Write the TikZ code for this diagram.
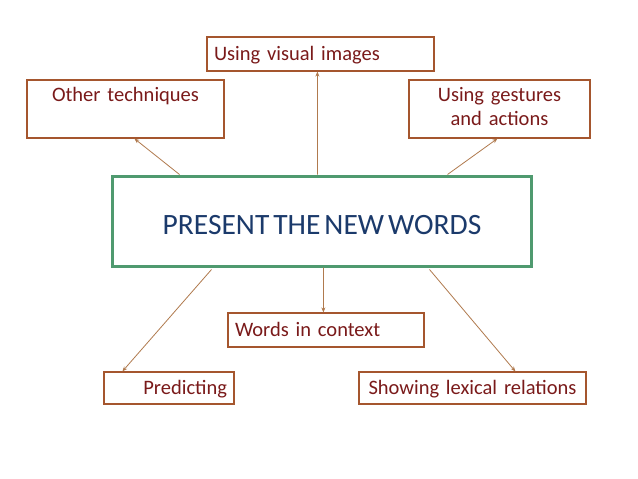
\documentclass[tikz,border=0pt]{standalone}
\usepackage{fontspec}
\setmainfont{Carlito}
\usetikzlibrary{arrows.meta}
\definecolor{boxline}{HTML}{A5562E}
\definecolor{boxtext}{HTML}{7A1A1A}
\definecolor{arrline}{HTML}{B07A4E}
\definecolor{ctrline}{HTML}{4F9A6F}
\definecolor{ctrtext}{HTML}{1B3A6B}
\newcommand{\wsp}{\hspace{4pt}}
\tikzset{
  x=1pt, y=1pt,
  boxnode/.style={draw=boxline, line width=1.2pt, rectangle, inner xsep=7pt, inner ysep=0pt,
    text=boxtext, font=\fontsize{20.5}{24}\selectfont},
  oneline/.style={text height=16pt, text depth=3pt},
  ctrnode/.style={draw=ctrline, line width=3pt, rectangle, inner sep=0pt, text=ctrtext,
    font=\fontsize{29.5}{34}\selectfont, text height=26pt, text depth=0pt},
  arr/.style={draw=arrline, line width=0.8pt, -{Stealth[length=5pt,width=4pt]}},
}
\begin{document}
\begin{tikzpicture}
\useasboundingbox[fill=white] (0,0) rectangle (638,-479);
% boxes
\node[boxnode, oneline, minimum width=227pt, minimum height=34pt, text width=213pt, align=left] (vis) at (320.5,-54) {Using visual images};
\node[boxnode, minimum width=197pt, minimum height=58pt, text width=183pt, align=center] (oth) at (125.5,-109) {\strut Other techniques\\\strut};
\node[boxnode, minimum width=181pt, minimum height=58pt, text width=167pt, align=center] (ges) at (499.5,-109) {\strut Using gestures\\\strut and actions};
\node[ctrnode, minimum width=419pt, minimum height=90pt] (ctr) at (322,-221) {PRESENT\wsp THE\wsp NEW\wsp WORDS};
\node[boxnode, oneline, minimum width=196pt, minimum height=34pt, text width=182pt, align=left] (wic) at (326,-330) {Words in context};
\node[boxnode, oneline, minimum width=130pt, minimum height=32pt, text width=116pt, align=right] (pre) at (169,-388) {Predicting};
\node[boxnode, oneline, minimum width=227pt, minimum height=32pt, text width=213pt, align=center] (sho) at (472.5,-388) {Showing lexical relations};
% connectors
\draw[arr] ([xshift=206.5pt]ctr.north west) -- ([xshift=111pt]vis.south west);
\draw[arr] ([xshift=68.5pt]ctr.north west) -- ([xshift=108pt]oth.south west);
\draw[arr] ([xshift=336.5pt]ctr.north west) -- ([xshift=89pt]ges.south west);
\draw[arr] ([xshift=212.5pt]ctr.south west) -- ([xshift=96pt]wic.north west);
\draw[arr] ([xshift=100.5pt,yshift=-2pt]ctr.south west) -- ([xshift=19pt]pre.north west);
\draw[arr] ([xshift=318.5pt,yshift=-2pt]ctr.south west) -- ([xshift=157pt]sho.north west);
\end{tikzpicture}
\end{document}
